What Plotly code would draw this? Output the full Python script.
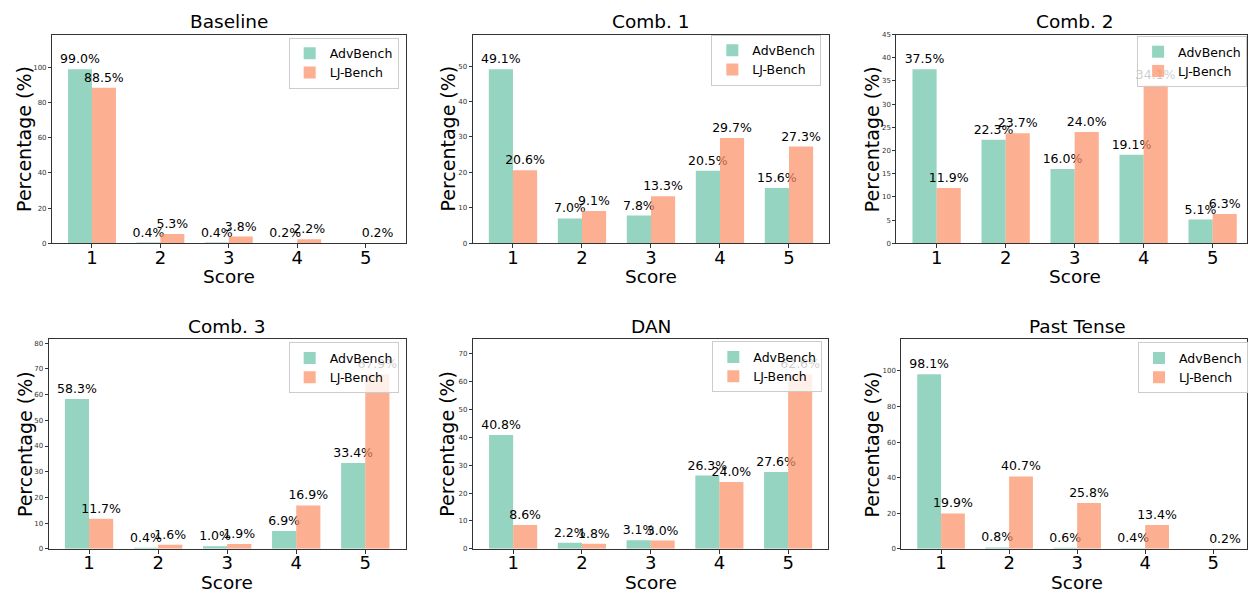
import plotly.graph_objects as go

# ---------------- data ----------------
scores = [1, 2, 3, 4, 5]
series_names = ["AdvBench", "LJ-Bench"]
panel_titles = ["Baseline", "Comb. 1", "Comb. 2", "Comb. 3", "DAN", "Past Tense"]

baseline_adv = [99.0, 0.4, 0.4, 0.2, 0.0]
baseline_lj = [88.5, 5.3, 3.8, 2.2, 0.2]
comb1_adv = [49.1, 7.0, 7.8, 20.5, 15.6]
comb1_lj = [20.6, 9.1, 13.3, 29.7, 27.3]
comb2_adv = [37.5, 22.3, 16.0, 19.1, 5.1]
comb2_lj = [11.9, 23.7, 24.0, 34.1, 6.3]
comb3_adv = [58.3, 0.4, 1.0, 6.9, 33.4]
comb3_lj = [11.7, 1.6, 1.9, 16.9, 67.9]
dan_adv = [40.8, 2.2, 3.1, 26.3, 27.6]
dan_lj = [8.6, 1.8, 3.0, 24.0, 62.6]
past_adv = [98.1, 0.8, 0.6, 0.4, 0.0]
past_lj = [19.9, 40.7, 25.8, 13.4, 0.2]

adv_values = [baseline_adv, comb1_adv, comb2_adv, comb3_adv, dan_adv, past_adv]
lj_values = [baseline_lj, comb1_lj, comb2_lj, comb3_lj, dan_lj, past_lj]
y_dticks = [20, 10, 5, 10, 10, 20]

# ---------------- style / layout ----------------
W, H = 1248, 594
FONT = "DejaVu Sans"
colors = ["rgba(102,194,165,0.7)", "rgba(252,141,98,0.7)"]

# pixel geometry: (left, visible right, full right, top, bottom)
geom = [
    (52, 406, 406, 31, 242.5),
    (473, 830, 830, 31, 242.5),
    (897, 1248, 1254, 31, 242.5),
    (48.7, 406, 406, 340, 552.3),
    (473.3, 829, 829, 340, 552.3),
    (902, 1248, 1254, 340, 552.3),
]
ylabel_x = [24, 448, 873, 25, 448, 873]
# legend: (x px, anchor, top px)
legend_pos = [
    (399, "right", 34),
    (822, "right", 31),
    (1138, "left", 32.5),
    (399, "right", 343),
    (823, "right", 342),
    (1139, "left", 343),
]

X0, X1 = 0.415, 5.585


def px_x(v):
    return v / W


def px_y(v):
    return 1 - v / H


fig = go.Figure()
annotations = []
layout = {}

for i in range(6):
    n = "" if i == 0 else str(i + 1)
    xa, ya = "x" + n, "y" + n
    leg = "legend" + n
    left, vis_right, full_right, top, bottom = geom[i]
    unit = (full_right - left) / (X1 - X0)
    xr_end = X0 + (vis_right - left) / unit
    for s, vals in enumerate([adv_values[i], lj_values[i]]):
        fig.add_trace(go.Bar(
            x=scores, y=vals, name=series_names[s],
            width=0.35, offset=-0.35 if s == 0 else 0.0,
            marker=dict(color=colors[s], line=dict(width=0)),
            text=[f"{v:.1f}%" if v > 0 else "" for v in vals],
            textposition="outside", textangle=0, constraintext="none",
            cliponaxis=False,
            textfont=dict(family=FONT, size=12.5, color="black"),
            xaxis=xa, yaxis=ya, legend=leg, showlegend=True,
        ))
    ymax = 1.2 * max(max(adv_values[i]), max(lj_values[i]))
    layout["xaxis" + n] = dict(
        domain=[px_x(left), px_x(vis_right)], anchor=ya,
        range=[X0, xr_end], tickmode="array", tickvals=scores,
        ticktext=[str(s) for s in scores],
        showgrid=False, zeroline=False, showline=True, mirror=True,
        linecolor="#333333", linewidth=1, ticks="outside", ticklen=4,
        ticklabelstandoff=-6,
        tickcolor="#333333", tickfont=dict(family=FONT, size=18, color="black"),
    )
    layout["yaxis" + n] = dict(
        domain=[px_y(bottom), px_y(top)], anchor=xa,
        range=[0, ymax], dtick=y_dticks[i], tick0=0,
        showgrid=False, zeroline=False, showline=True, mirror=True,
        linecolor="#333333", linewidth=1, ticks="outside", ticklen=3,
        tickcolor="#333333", tickfont=dict(family=FONT, size=7, color="#333333"),
    )
    lx, lanchor, ltop = legend_pos[i]
    layout[leg] = dict(
        x=px_x(lx), xanchor=lanchor, y=px_y(ltop), yanchor="top",
        bgcolor="rgba(255,255,255,0.8)", bordercolor="#cccccc", borderwidth=1,
        font=dict(family=FONT, size=12.5, color="black"),
        tracegroupgap=0, itemwidth=30,
    )
    cx = (left + full_right) / 2
    annotations.append(dict(
        text=panel_titles[i], x=px_x(cx), y=px_y(top - 13), xref="paper", yref="paper",
        xanchor="center", yanchor="middle", showarrow=False,
        font=dict(family=FONT, size=18.5, color="black"),
    ))
    annotations.append(dict(
        text="Percentage (%)", x=px_x(ylabel_x[i]), y=px_y((top + bottom) / 2),
        xref="paper", yref="paper", xanchor="center", yanchor="middle",
        textangle=-90, showarrow=False,
        font=dict(family=FONT, size=19, color="black"),
    ))
    annotations.append(dict(
        text="Score", x=px_x(cx), y=px_y(bottom + 34), xref="paper", yref="paper",
        xanchor="center", yanchor="middle", showarrow=False,
        font=dict(family=FONT, size=18.5, color="black"),
    ))

fig.update_layout(
    width=W, height=H, margin=dict(l=0, r=0, t=0, b=0),
    paper_bgcolor="white", plot_bgcolor="white",
    barmode="group", annotations=annotations,
    font=dict(family=FONT), **layout,
)

fig.write_html("out.html")
